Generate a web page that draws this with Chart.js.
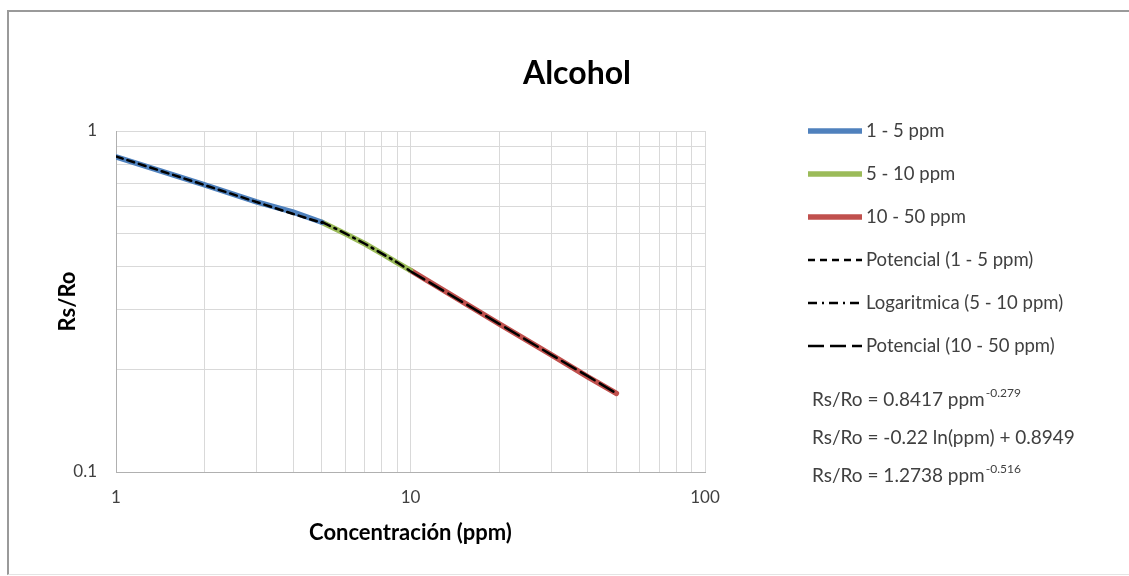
<!DOCTYPE html>
<html>
<head>
<meta charset="utf-8">
<script src="https://cdn.jsdelivr.net/npm/chart.js@4/dist/chart.umd.min.js"></script>
<style>
    html, body { margin: 0; padding: 0; background: #fff; }
    #wrap { position: relative; width: 1129px; height: 576px; }
    #frame { position: absolute; left: 7px; top: 10px; right: -2px; bottom: 1px; border-left: 2px solid #9a9a9a; border-top: 2px solid #9a9a9a; border-bottom: 1px solid #e4e4e4; }
</style>
</head>
<body>
<div id="wrap">
    <div id="frame"></div>
    <canvas id="alcoholChart" width="1129" height="576"></canvas>
</div>
<script>
// concentrations (ppm) and Rs/Ro
const ppmLow = [1, 2, 3, 4, 5];
const rsLow = [0.84, 0.695, 0.62, 0.578, 0.54];
const ppmMid = [5, 6, 7, 8, 9, 10];
const rsMid = [0.54, 0.50, 0.467, 0.437, 0.411, 0.39];
const ppmHigh = [10, 20, 30, 40, 50];
const rsHigh = [0.39, 0.272, 0.221, 0.19, 0.17];

// trend lines (Excel fits)
const trendLow = [0.842, 0.694, 0.619, 0.571, 0.538];
const trendMid = [0.541, 0.501, 0.467, 0.437, 0.412, 0.388];
const trendHigh = [0.388, 0.272, 0.221, 0.191, 0.170];

// grid positions and labelled ticks
const xGrid = [1, 2, 3, 4, 5, 6, 7, 8, 9, 10, 20, 30, 40, 50, 60, 70, 80, 90, 100];
const yGrid = [0.1, 0.2, 0.3, 0.4, 0.5, 0.6, 0.7, 0.8, 0.9, 1];
const xTickLabels = [1, 10, 100];
const yTickLabels = [0.1, 1];

const equations = [
    ['Rs/Ro = 0.8417 ppm', '-0.279'],
    ['Rs/Ro = -0.22 ln(ppm) + 0.8949', ''],
    ['Rs/Ro = 1.2738 ppm', '-0.516']
];

const FONT = 'Lato, "Open Sans", sans-serif';
const TEXT = '#404040';

function pts(xs, ys) {
    return xs.map((x, i) => ({ x: x, y: ys[i] }));
}

// title, legend and equations drawn next to the plot
const sidePanel = {
    id: 'sidePanel',
    afterDraw(chart) {
        const ctx = chart.ctx;
        ctx.save();
        ctx.fillStyle = '#000';
        ctx.font = 'bold 32px ' + FONT;
        ctx.textAlign = 'center';
        ctx.textBaseline = 'middle';
        ctx.fillText('Alcohol', 577, 74);

        ctx.textAlign = 'left';
        chart.data.datasets.forEach((ds, i) => {
            const y = 131 + i * 43;
            ctx.beginPath();
            ctx.strokeStyle = ds.borderColor;
            ctx.lineWidth = ds.borderWidth;
            ctx.setLineDash(ds.borderDash || []);
            ctx.moveTo(808, y);
            ctx.lineTo(862, y);
            ctx.stroke();
            ctx.setLineDash([]);
            ctx.fillStyle = TEXT;
            ctx.font = '18.5px ' + FONT;
            ctx.fillText(ds.label, 866, y);
        });

        equations.forEach((eq, i) => {
            const y = 400 + i * 38;
            ctx.fillStyle = TEXT;
            ctx.font = '19px ' + FONT;
            ctx.fillText(eq[0], 812, y);
            const w = ctx.measureText(eq[0]).width;
            ctx.font = '12px ' + FONT;
            ctx.fillText(eq[1], 812 + w + 1, y - 7);
        });
        ctx.restore();
    }
};

const ctx = document.getElementById('alcoholChart').getContext('2d');
const alcoholChart = new Chart(ctx, {
    type: 'line',
    data: {
        datasets: [
            { label: '1 - 5 ppm', data: pts(ppmLow, rsLow), borderColor: '#4f81bd', borderWidth: 5.5, order: 1 },
            { label: '5 - 10 ppm', data: pts(ppmMid, rsMid), borderColor: '#9bbb59', borderWidth: 5.5, order: 1 },
            { label: '10 - 50 ppm', data: pts(ppmHigh, rsHigh), borderColor: '#c0504d', borderWidth: 5.5, order: 1 },
            { label: 'Potencial (1 - 5 ppm)', data: pts(ppmLow, trendLow), borderColor: '#000', borderWidth: 2.5, borderDash: [7, 5], order: 0 },
            { label: 'Logaritmica (5 - 10 ppm)', data: pts(ppmMid, trendMid), borderColor: '#000', borderWidth: 2.5, borderDash: [9, 5, 2, 5], order: 0 },
            { label: 'Potencial (10 - 50 ppm)', data: pts(ppmHigh, trendHigh), borderColor: '#000', borderWidth: 2.5, borderDash: [16, 6], order: 0 }
        ]
    },
    options: {
        responsive: false,
        animation: false,
        elements: { point: { radius: 0 }, line: { tension: 0, borderCapStyle: 'round' } },
        layout: { padding: { left: 55, top: 131, right: 424, bottom: 20 } },
        plugins: {
            legend: { display: false },
            tooltip: { enabled: false }
        },
        scales: {
            x: {
                type: 'logarithmic',
                min: 1,
                max: 100,
                afterBuildTicks: (scale) => { scale.ticks = xGrid.map(v => ({ value: v })); },
                afterFit: (scale) => { scale.height = 84; },
                grid: { color: '#d9d9d9', drawTicks: false },
                border: { color: '#b0b0b0' },
                ticks: {
                    padding: 15,
                    color: TEXT,
                    font: { family: FONT, size: 17 },
                    maxRotation: 0,
                    autoSkip: false,
                    callback: (v) => xTickLabels.includes(v) ? String(v) : ''
                },
                title: {
                    display: true,
                    text: 'Concentración (ppm)',
                    color: '#000',
                    font: { family: FONT, size: 22, weight: 'bold' },
                    padding: { top: 0, bottom: 10 }
                }
            },
            y: {
                type: 'logarithmic',
                min: 0.1,
                max: 1,
                afterBuildTicks: (scale) => { scale.ticks = yGrid.map(v => ({ value: v })); },
                afterFit: (scale) => { scale.width = 61; },
                grid: { color: '#d9d9d9', drawTicks: false },
                border: { color: '#b0b0b0' },
                ticks: {
                    padding: 19,
                    color: TEXT,
                    font: { family: FONT, size: 17 },
                    autoSkip: false,
                    callback: (v) => yTickLabels.includes(v) ? String(v) : ''
                },
                title: {
                    display: true,
                    text: 'Rs/Ro',
                    color: '#000',
                    font: { family: FONT, size: 22, weight: 'bold' },
                    padding: { top: 0, bottom: 0 }
                }
            }
        }
    },
    plugins: [sidePanel]
});
</script>
</body>
</html>
